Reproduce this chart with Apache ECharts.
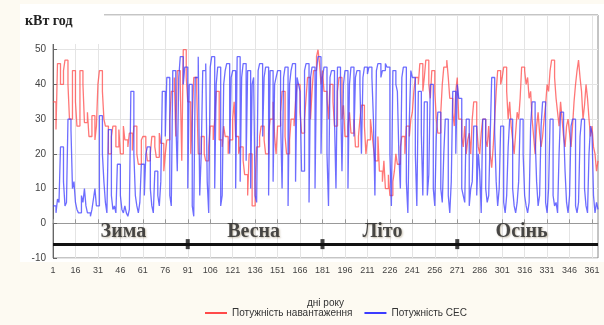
<!DOCTYPE html>
<html>
<head>
<meta charset="utf-8">
<script src="https://cdn.jsdelivr.net/npm/echarts@6/dist/echarts.min.js"></script>
<style>
  html, body { margin: 0; padding: 0; background: #fdfaf2; }
  #box { width: 604px; height: 325px; }
</style>
</head>
<body>
<div id="box"></div>
<script>
// дні року 1..365
var days = [];
for (var i = 1; i <= 365; i++) days.push(String(i));

// Потужність навантаження, кВт год
var loadPower = [
  35, 35, 27, 46, 46, 40, 40, 44, 47, 47, 40, 30, 30, 44, 44,
  35, 28, 28, 44, 44, 40, 29, 29, 32, 25, 25, 31, 31, 24, 28,
  40, 44, 44, 38, 30, 28, 28, 20, 20, 25, 28, 28, 22, 22, 27,
  20, 20, 28, 24, 24, 22, 26, 26, 21, 28, 28, 20, 17, 17, 24,
  25, 25, 22, 18, 18, 20, 25, 25, 22, 19, 19, 26, 23, 23, 15,
  20, 24, 24, 30, 38, 38, 42, 25, 44, 44, 40, 18, 50, 50, 42,
  35, 35, 20, 30, 42, 42, 38, 20, 20, 25, 25, 20, 18, 18, 22,
  28, 28, 24, 30, 38, 38, 24, 24, 22, 28, 25, 25, 20, 24, 24,
  30, 35, 25, 25, 20, 22, 22, 18, 14, 14, 8, 20, 20, 5, 5,
  12, 22, 22, 25, 28, 28, 24, 20, 20, 26, 30, 30, 35, 25, 20,
  28, 28, 32, 38, 38, 25, 20, 20, 24, 30, 30, 28, 35, 40, 40,
  32, 26, 26, 30, 36, 42, 42, 30, 38, 44, 44, 48, 50, 46, 40,
  44, 38, 38, 36, 30, 40, 40, 35, 28, 28, 38, 42, 42, 30, 34,
  25, 25, 28, 32, 26, 26, 30, 22, 22, 25, 30, 34, 34, 28, 20,
  24, 24, 30, 26, 22, 18, 18, 25, 15, 15, 12, 18, 10, 10, 14,
  8, 8, 12, 15, 20, 17, 17, 22, 25, 25, 20, 28, 28, 25, 30,
  32, 38, 42, 42, 40, 46, 46, 38, 42, 47, 47, 40, 36, 44, 44,
  38, 30, 26, 26, 32, 40, 45, 45, 47, 42, 36, 36, 32, 28, 38,
  42, 30, 30, 25, 22, 28, 20, 24, 26, 20, 30, 35, 35, 28, 22,
  20, 26, 30, 30, 24, 22, 28, 20, 16, 22, 30, 38, 44, 44, 40,
  42, 45, 45, 38, 30, 35, 28, 24, 20, 26, 32, 30, 36, 45, 45,
  44, 40, 42, 36, 38, 30, 25, 20, 28, 32, 26, 22, 25, 30, 34,
  40, 38, 44, 47, 47, 42, 36, 32, 28, 35, 30, 25, 22, 28, 30,
  26, 22, 28, 35, 40, 44, 47, 42, 38, 30, 34, 40, 36, 30, 25,
  28, 22, 20, 15, 18
];

// Потужність СЕС, кВт год
var pvPower = [
  5, 5, 3, 7, 6, 22, 22, 12, 5, 6, 30, 30, 27, 10, 12,
  6, 4, 3, 3, 8, 6, 10, 5, 3, 3, 2, 4, 7, 10, 5,
  5, 31, 31, 20, 12, 6, 3, 27, 27, 8, 4, 5, 3, 17, 17,
  8, 4, 3, 5, 3, 2, 4, 38, 38, 20, 8, 5, 3, 6, 17,
  17, 8, 20, 22, 22, 10, 5, 3, 15, 15, 8, 5, 12, 38, 38,
  25, 42, 42, 8, 5, 44, 44, 30, 15, 42, 48, 48, 40, 45, 45,
  10, 40, 40, 5, 2, 42, 42, 48, 8, 20, 44, 44, 46, 12, 3,
  45, 48, 48, 10, 40, 45, 45, 5, 8, 40, 44, 46, 46, 20, 42,
  44, 44, 10, 48, 48, 12, 42, 46, 46, 18, 44, 44, 10, 40, 42,
  8, 6, 44, 46, 46, 25, 42, 45, 45, 8, 44, 44, 12, 40, 42,
  44, 44, 30, 10, 42, 45, 45, 5, 40, 44, 46, 46, 12, 42, 40,
  38, 15, 15, 44, 46, 46, 6, 42, 45, 45, 10, 44, 48, 48, 20,
  42, 45, 45, 20, 5, 42, 44, 44, 30, 10, 45, 45, 38, 15, 40,
  44, 44, 10, 40, 45, 45, 25, 42, 44, 44, 40, 20, 42, 45, 45,
  43, 45, 45, 42, 30, 8, 44, 46, 46, 42, 44, 44, 46, 45, 45,
  20, 5, 44, 44, 40, 38, 20, 10, 42, 45, 45, 12, 3, 30, 44,
  42, 42, 20, 5, 38, 38, 26, 8, 35, 35, 8, 14, 40, 40, 10,
  5, 25, 32, 32, 10, 6, 20, 30, 30, 8, 3, 12, 38, 38, 20,
  40, 36, 36, 10, 8, 6, 30, 30, 5, 10, 12, 28, 28, 8, 20,
  15, 3, 30, 30, 10, 6, 8, 25, 42, 42, 26, 12, 5, 10, 28,
  28, 6, 3, 8, 22, 30, 30, 10, 5, 3, 6, 12, 30, 30, 20,
  8, 5, 3, 6, 28, 35, 35, 25, 12, 5, 8, 28, 35, 35, 6,
  3, 10, 30, 30, 8, 5, 6, 3, 20, 32, 32, 28, 15, 6, 3,
  8, 28, 30, 30, 5, 3, 6, 25, 30, 30, 10, 5, 3, 20, 28,
  26, 8, 3, 6, 4
];

// пори року
var seasonNames = ['Зима', 'Весна', 'Літо', 'Осінь'];
var seasonCenter = [48, 135, 221, 314];
var seasonBounds = [91, 181, 271];
var seasonLevel = -6;

var chart = echarts.init(document.getElementById('box'));

var option = {
    animation: false,
    backgroundColor: '#fdfaf2',
    graphic: [{
        type: 'rect', z: -10, silent: true,
        shape: { x: 20, y: 4, width: 584, height: 258 },
        style: { fill: '#ffffff' }
    }, {
        // біла підкладка під підписом осі
        type: 'rect', z: 100, silent: true,
        shape: { x: 20, y: 4, width: 84, height: 40 },
        style: { fill: '#ffffff' }
    }, {
        type: 'text', left: 25, top: 14, z: 101,
        style: { text: 'кВт год', font: 'bold 14px "Liberation Serif", serif', fill: '#222' }
    }],
    grid: { left: 53, right: 6, top: 15, bottom: 67, show: true, borderColor: '#8a8a8a', borderWidth: 1 },
    legend: {
        left: 200, bottom: 2,
        itemWidth: 22, itemHeight: 2, icon: 'rect', itemGap: 12,
        textStyle: { fontSize: 10, color: '#333', fontFamily: 'Liberation Sans' },
        data: ['Потужність навантаження', 'Потужність СЕС']
    },
    xAxis: {
        type: 'category',
        data: days,
        boundaryGap: false,
        name: 'дні року',
        nameLocation: 'middle',
        nameGap: 40,
        nameTextStyle: { fontSize: 10, color: '#333', fontFamily: 'Liberation Sans' },
        axisLine: { show: true, lineStyle: { color: '#999' } },
        axisTick: { inside: true, length: 4, interval: 14, lineStyle: { color: '#999' } },
        axisLabel: { interval: 14, fontSize: 9, margin: 8, color: '#444', fontFamily: 'Liberation Sans' },
        splitLine: { show: true, interval: 14, lineStyle: { color: '#e4e4e4' } }
    },
    yAxis: {
        type: 'value',
        min: -10, max: 60, interval: 10,
        axisLine: { show: true, lineStyle: { color: '#666' } },
        axisTick: { show: true, inside: true, length: 4, lineStyle: { color: '#666' } },
        axisLabel: {
            fontSize: 10, margin: 7, color: '#444', fontFamily: 'Liberation Sans',
            formatter: function (v) { return v === 60 ? '' : v; }
        },
        splitLine: { lineStyle: { color: '#e4e4e4' } }
    },
    series: [
        {
            name: 'Потужність навантаження',
            type: 'line', step: 'end', showSymbol: false,
            data: loadPower,
            color: '#ff4a4a',
            lineStyle: { width: 1.3, opacity: 0.75 },
            z: 2
        },
        {
            name: 'Потужність СЕС',
            type: 'line', step: 'end', showSymbol: false,
            data: pvPower,
            color: '#3c3cff',
            lineStyle: { width: 1.3, opacity: 0.75 },
            z: 3
        },
        {
            name: 'seasons',
            type: 'scatter',
            symbolSize: 0,
            data: seasonNames.map(function (n, k) { return { name: n, value: [seasonCenter[k] - 1, -2.5] }; }),
            label: {
                show: true, position: 'inside', formatter: '{b}',
                fontFamily: '"Liberation Serif", serif', fontWeight: 'bold', fontSize: 20, color: '#222',
                textShadowColor: 'rgba(120,100,60,0.5)', textShadowBlur: 2, textShadowOffsetX: 1, textShadowOffsetY: 1
            },
            markLine: {
                silent: true, symbol: 'none', label: { show: false },
                lineStyle: { color: '#111', width: 3, type: 'solid' },
                data: [{ yAxis: seasonLevel }]
            },
            z: 5
        },
        {
            name: 'bounds',
            type: 'scatter',
            symbol: 'rect', symbolSize: [4, 10],
            itemStyle: { color: '#111' },
            data: seasonBounds.map(function (d) { return [d - 1, seasonLevel]; }),
            z: 6
        }
    ]
};

chart.setOption(option);
</script>
</body>
</html>
